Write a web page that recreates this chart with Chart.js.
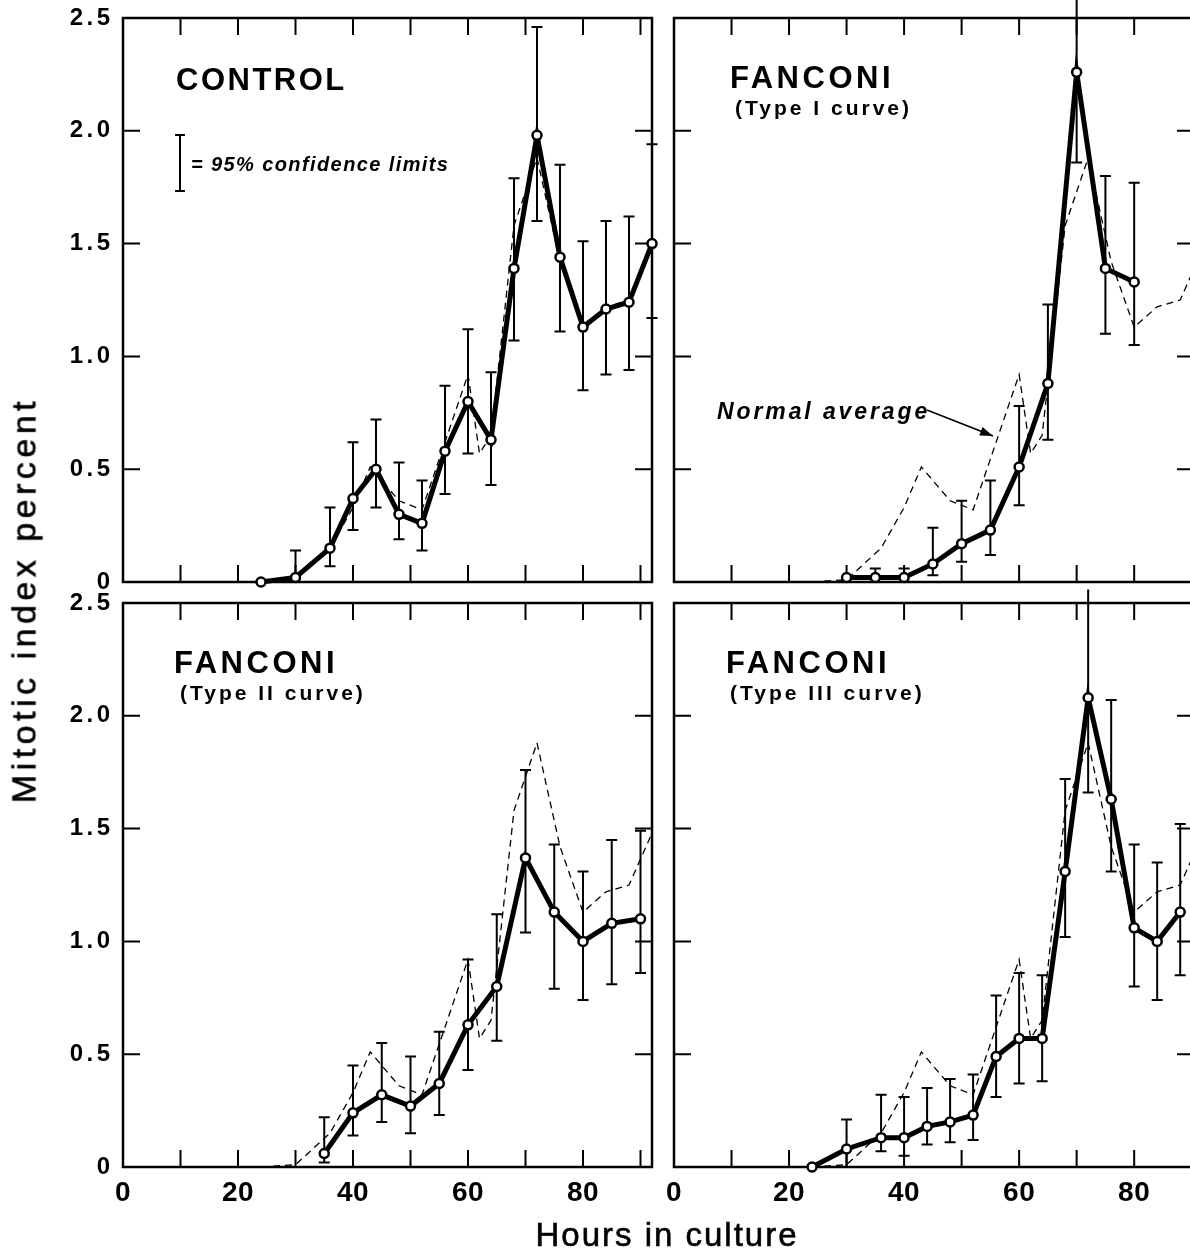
<!DOCTYPE html>
<html>
<head>
<meta charset="utf-8">
<script src="https://cdn.jsdelivr.net/npm/chart.js@4.4.1/dist/chart.umd.min.js"></script>
<style>
html, body { margin:0; padding:0; background:#fff; width:1190px; height:1254px; overflow:hidden; position:relative; }
canvas { position:absolute; }
.title { position:absolute; white-space:nowrap; color:#000; font-family:'Liberation Sans', Arial, sans-serif; -webkit-text-stroke:0.6px #000; line-height:1.15; }
#ytitle { left:24px; top:600px; font-size:34px; letter-spacing:4.5px; transform:translate(-50%,-50%) rotate(-90deg); }
#xtitle { left:667px; top:1235px; font-size:33px; letter-spacing:2px; transform:translate(-50%,-50%); }
</style>
</head>
<body>
<canvas id="cTL" width="664" height="600" style="left:0px;top:0px"></canvas>
<canvas id="cTR" width="600" height="600" style="left:630px;top:0px"></canvas>
<canvas id="cBL" width="664" height="678" style="left:0px;top:576px"></canvas>
<canvas id="cBR" width="600" height="678" style="left:630px;top:576px"></canvas>
<div id="ytitle" class="title">Mitotic index percent</div>
<div id="xtitle" class="title">Hours in culture</div>
<script>
// ---------- data ----------
const xTickLabels = ['0', '20', '40', '60', '80'];
const yTickLabels = ['0', '0.5', '1.0', '1.5', '2.0', '2.5'];

const normalHours  = [24, 30, 36, 40, 43, 48, 52, 56, 60, 62, 64, 68, 72, 76, 80, 84, 88, 92];
const normalValues = [0.00, 0.01, 0.15, 0.33, 0.51, 0.36, 0.32, 0.62, 0.92, 0.57, 0.65, 1.58, 1.88, 1.42, 1.13, 1.22, 1.25, 1.48];

const controlHours  = [24, 30, 36, 40, 44, 48, 52, 56, 60, 64, 68, 72, 76, 80, 84, 88, 92];
const controlValues = [0.00, 0.02, 0.15, 0.37, 0.50, 0.30, 0.26, 0.58, 0.80, 0.63, 1.39, 1.98, 1.44, 1.13, 1.21, 1.24, 1.50];
const controlLow    = [null, 0.02, 0.07, 0.23, 0.33, 0.19, 0.14, 0.39, 0.57, 0.43, 1.07, 1.60, 1.11, 0.85, 0.92, 0.94, 1.17];
const controlHigh   = [null, 0.14, 0.33, 0.62, 0.72, 0.53, 0.45, 0.87, 1.12, 0.93, 1.79, 2.46, 1.85, 1.51, 1.60, 1.62, 1.94];

const type1Hours  = [30, 35, 40, 45, 50, 55, 60, 65, 70, 75, 80];
const type1Values = [0.02, 0.02, 0.02, 0.08, 0.17, 0.23, 0.51, 0.88, 2.26, 1.39, 1.33];
const type1Low    = [null, 0.02, 0.02, 0.03, 0.09, 0.12, 0.34, 0.63, 1.86, 1.10, 1.05];
const type1High   = [null, 0.06, 0.06, 0.24, 0.36, 0.45, 0.78, 1.23, 2.62, 1.80, 1.77];

const type2Hours  = [35, 40, 45, 50, 55, 60, 65, 70, 75, 80, 85, 90];
const type2Values = [0.06, 0.24, 0.32, 0.27, 0.37, 0.63, 0.80, 1.37, 1.13, 1.00, 1.08, 1.10];
const type2Low    = [0.02, 0.14, 0.20, 0.15, 0.23, 0.43, 0.56, 1.04, 0.79, 0.74, 0.81, 0.86];
const type2High   = [0.22, 0.45, 0.55, 0.49, 0.60, 0.92, 1.12, 1.76, 1.43, 1.31, 1.45, 1.49];

const type3Hours  = [24, 30, 36, 40, 44, 48, 52, 56, 60, 64, 68, 72, 76, 80, 84, 88];
const type3Values = [0.00, 0.08, 0.13, 0.13, 0.18, 0.20, 0.23, 0.49, 0.57, 0.57, 1.31, 2.08, 1.63, 1.06, 1.00, 1.13];
const type3Low    = [null, 0.00, 0.07, 0.05, 0.10, 0.11, 0.12, 0.31, 0.37, 0.38, 1.02, 1.66, 1.31, 0.80, 0.74, 0.85];
const type3High   = [null, 0.21, 0.32, 0.31, 0.35, 0.39, 0.41, 0.76, 0.86, 0.85, 1.72, 2.56, 2.07, 1.43, 1.35, 1.52];

// ---------- drawing helpers ----------
const FONT = "'Liberation Sans', Arial, sans-serif";
const TICK_LEN = 17;

function drawText(ctx, txt, x, y, font, spacing) {
  ctx.save();
  ctx.font = font;
  ctx.fillStyle = '#000';
  ctx.textAlign = 'left';
  ctx.textBaseline = 'alphabetic';
  ctx.letterSpacing = spacing + 'px';
  ctx.fillText(txt, x, y);
  ctx.restore();
}

const panelPlugin = {
  id: 'panel',
  afterLayout(chart) {
    [['x', 0.5], ['y', 3.5]].forEach(([id, sp]) => {
      const s = chart.scales[id];
      if (!s || s._spaced) return;
      const orig = s.drawLabels;
      s.drawLabels = function (area) {
        const c = this.ctx;
        c.save();
        c.letterSpacing = sp + 'px';
        orig.call(this, area);
        c.restore();
      };
      s._spaced = true;
    });
  },
  beforeDatasetsDraw(chart) {
    const ctx = chart.ctx;
    const a = chart.chartArea;
    const xs = chart.scales.x, ys = chart.scales.y;
    ctx.save();
    // frame
    ctx.strokeStyle = '#000';
    ctx.lineWidth = 2.5;
    ctx.strokeRect(a.left, a.top, a.right - a.left, a.bottom - a.top);
    // inward ticks
    ctx.lineWidth = 2;
    ctx.beginPath();
    for (let h = 10; h <= 90; h += 10) {
      const px = xs.getPixelForValue(h);
      ctx.moveTo(px, a.top); ctx.lineTo(px, a.top + TICK_LEN);
      ctx.moveTo(px, a.bottom); ctx.lineTo(px, a.bottom - TICK_LEN);
    }
    for (let v = 0.5; v <= 2.01; v += 0.5) {
      const py = ys.getPixelForValue(v);
      ctx.moveTo(a.left, py); ctx.lineTo(a.left + TICK_LEN, py);
      ctx.moveTo(a.right, py); ctx.lineTo(a.right - TICK_LEN, py);
    }
    ctx.stroke();
    // error bars (95% confidence limits)
    const eb = chart.options.errorBars;
    ctx.lineWidth = 2;
    ctx.beginPath();
    eb.hours.forEach((h, i) => {
      const lo = eb.low[i], hi = eb.high[i];
      if (lo === null || hi === null) return;
      const px = xs.getPixelForValue(h);
      const pl = ys.getPixelForValue(lo), ph = ys.getPixelForValue(hi);
      ctx.moveTo(px, pl); ctx.lineTo(px, ph);
      if (hi <= 2.5) { ctx.moveTo(px - 5.5, ph); ctx.lineTo(px + 5.5, ph); }
      if (lo > eb.values[i] - 0.015) return;
      ctx.moveTo(px - 5.5, pl); ctx.lineTo(px + 5.5, pl);
    });
    ctx.stroke();
    ctx.restore();
  },
  afterDraw(chart) {
    const ctx = chart.ctx;
    const a = chart.chartArea;
    const n = chart.options.notes;
    n.texts.forEach(t => drawText(ctx, t.text, a.left + t.dx, a.top + t.dy, t.font, t.spacing));
    if (n.legendBar) {
      const x = a.left + 57, y1 = a.top + 117, y2 = a.top + 173;
      ctx.save();
      ctx.strokeStyle = '#000'; ctx.lineWidth = 2;
      ctx.beginPath();
      ctx.moveTo(x, y1); ctx.lineTo(x, y2);
      ctx.moveTo(x - 5, y1); ctx.lineTo(x + 5, y1);
      ctx.moveTo(x - 5, y2); ctx.lineTo(x + 5, y2);
      ctx.stroke();
      ctx.restore();
    }
    if (n.arrow) {
      const x1 = a.left + 253, y1 = a.top + 392, x2 = a.left + 319, y2 = a.top + 418;
      ctx.save();
      ctx.strokeStyle = '#000'; ctx.fillStyle = '#000'; ctx.lineWidth = 1.8;
      ctx.beginPath(); ctx.moveTo(x1, y1); ctx.lineTo(x2, y2); ctx.stroke();
      const ang = Math.atan2(y2 - y1, x2 - x1);
      ctx.beginPath();
      ctx.moveTo(x2, y2);
      ctx.lineTo(x2 - 13 * Math.cos(ang) + 4.5 * Math.sin(ang), y2 - 13 * Math.sin(ang) - 4.5 * Math.cos(ang));
      ctx.lineTo(x2 - 13 * Math.cos(ang) - 4.5 * Math.sin(ang), y2 - 13 * Math.sin(ang) + 4.5 * Math.cos(ang));
      ctx.closePath(); ctx.fill();
      ctx.restore();
    }
  }
};

function makePanel(id, cfg) {
  const pts = (hs, vs) => hs.map((h, i) => ({ x: h, y: vs[i] }));
  return new Chart(document.getElementById(id), {
    type: 'line',
    data: {
      datasets: [
        {
          label: cfg.label,
          data: pts(cfg.hours, cfg.values),
          borderColor: '#000', borderWidth: 5,
          pointRadius: 4.5, pointBackgroundColor: '#fff', pointBorderColor: '#000', pointBorderWidth: 2.5,
          tension: 0, clip: false
        },
        {
          label: 'Normal average',
          data: pts(normalHours, normalValues),
          borderColor: '#000', borderWidth: 1.3, borderDash: [7, 5],
          pointRadius: 0, tension: 0, clip: false
        }
      ]
    },
    options: {
      responsive: false, animation: false, events: [],
      errorBars: { hours: cfg.hours, values: cfg.values, low: cfg.low, high: cfg.high },
      notes: cfg.notes,
      layout: { autoPadding: false, padding: cfg.padding },
      plugins: { legend: { display: false }, tooltip: { enabled: false } },
      scales: {
        x: {
          type: 'linear', min: 0, max: cfg.xMax,
          grid: { display: false, drawTicks: false }, border: { display: false },
          ticks: {
            display: cfg.showX, stepSize: 10, autoSkip: false, maxRotation: 0, padding: 9,
            color: '#000', font: { family: FONT, size: 28, weight: 'bold' },
            callback: v => { const i = xTickLabels.indexOf(String(v)); return i >= 0 ? xTickLabels[i] : ''; }
          },
          afterFit: s => { s.height = cfg.xHeight; s.paddingLeft = 0; s.paddingRight = 0; }
        },
        y: {
          min: 0, max: 2.5,
          grid: { display: false, drawTicks: false }, border: { display: false },
          ticks: {
            display: cfg.showY, stepSize: 0.5, padding: 9.5,
            color: '#000', font: { family: FONT, size: 24, weight: 'bold' },
            callback: v => yTickLabels[Math.round(v * 2)]
          },
          afterFit: s => { s.width = cfg.yWidth; s.paddingTop = 0; s.paddingBottom = 0; }
        }
      }
    },
    plugins: [panelPlugin]
  });
}

const bigTitle = 'bold 31px ' + FONT;
const subTitle = 'bold 21px ' + FONT;

makePanel('cTL', {
  label: 'Control', hours: controlHours, values: controlValues, low: controlLow, high: controlHigh,
  showX: false, showY: true, xHeight: 18, yWidth: 123, xMax: 92,
  padding: { left: 0, top: 18, right: 12, bottom: 0 },
  notes: {
    texts: [
      { text: 'CONTROL', dx: 53, dy: 72, font: bigTitle, spacing: 2.5 },
      { text: '= 95% confidence limits', dx: 68, dy: 153, font: 'italic bold 20px ' + FONT, spacing: 1.4 }
    ],
    legendBar: true
  }
});

makePanel('cTR', {
  label: 'Fanconi (Type I curve)', hours: type1Hours, values: type1Values, low: type1Low, high: type1High,
  showX: false, showY: false, xHeight: 18, yWidth: 44, xMax: 90.4,
  padding: { left: 0, top: 18, right: 36, bottom: 0 },
  notes: {
    texts: [
      { text: 'FANCONI', dx: 56, dy: 70, font: bigTitle, spacing: 3.5 },
      { text: '(Type I curve)', dx: 61, dy: 97, font: subTitle, spacing: 3 },
      { text: 'Normal average', dx: 43, dy: 401, font: 'italic bold 23px ' + FONT, spacing: 2.9 }
    ],
    arrow: true
  }
});

makePanel('cBL', {
  label: 'Fanconi (Type II curve)', hours: type2Hours, values: type2Values, low: type2Low, high: type2High,
  showX: true, showY: true, xHeight: 87, yWidth: 123, xMax: 92,
  padding: { left: 0, top: 27, right: 12, bottom: 0 },
  notes: {
    texts: [
      { text: 'FANCONI', dx: 51, dy: 70, font: bigTitle, spacing: 3.5 },
      { text: '(Type II curve)', dx: 57, dy: 97, font: subTitle, spacing: 3 }
    ]
  }
});

makePanel('cBR', {
  label: 'Fanconi (Type III curve)', hours: type3Hours, values: type3Values, low: type3Low, high: type3High,
  showX: true, showY: false, xHeight: 87, yWidth: 44, xMax: 90.4,
  padding: { left: 0, top: 27, right: 36, bottom: 0 },
  notes: {
    texts: [
      { text: 'FANCONI', dx: 52, dy: 70, font: bigTitle, spacing: 3.5 },
      { text: '(Type III curve)', dx: 56, dy: 97, font: subTitle, spacing: 3 }
    ]
  }
});
</script>
</body>
</html>
